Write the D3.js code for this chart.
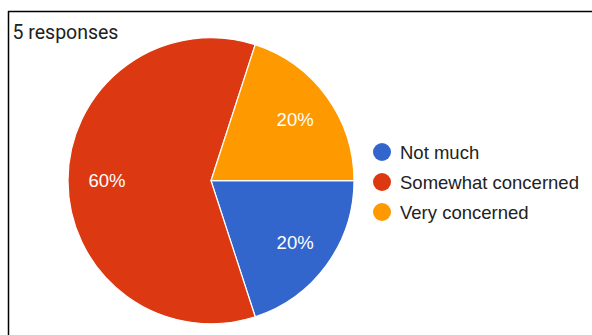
<!DOCTYPE html>
<html>
<head>
<meta charset="utf-8">
<script src="https://cdn.jsdelivr.net/npm/d3@7"></script>
<style>
  html, body { margin: 0; padding: 0; background: #fff; }
  svg { display: block; font-family: Arial, "Liberation Sans", sans-serif; }
</style>
</head>
<body>
<svg id="chart" width="592" height="335"></svg>
<script>
// Survey answers and their counts
const categories = ["Not much", "Somewhat concerned", "Very concerned"];
const counts = [1, 3, 1];
const colors = ["#3366cc", "#dc3912", "#ff9900"];
const titleText = "5 responses";

const svg = d3.select("#chart");
const W = 592, H = 335;

// Frame: top and left rules
svg.append("line").attr("x1", 8).attr("y1", 11.5).attr("x2", W).attr("y2", 11.5)
  .attr("stroke", "#000").attr("stroke-width", 1.5);
svg.append("line").attr("x1", 8.5).attr("y1", 11).attr("x2", 8.5).attr("y2", H)
  .attr("stroke", "#000").attr("stroke-width", 1.5);

svg.append("text").attr("x", 12.5).attr("y", 38.5)
  .attr("font-family", "Roboto, Arial, sans-serif")
  .attr("font-size", 19.5).attr("fill", "#212121").text(titleText);

const cx = 211, cy = 180.7, r = 143;
const total = d3.sum(counts);

// Slices run clockwise starting from 3 o'clock
const pie = d3.pie().sort(null).value(d => d)
  .startAngle(Math.PI / 2).endAngle(Math.PI / 2 + 2 * Math.PI);
const arcs = pie(counts);
const arc = d3.arc().innerRadius(0).outerRadius(r);
const labelArc = d3.arc().innerRadius(104).outerRadius(104);

const g = svg.append("g").attr("transform", `translate(${cx},${cy})`);
g.selectAll("path").data(arcs).join("path")
  .attr("d", arc)
  .attr("fill", (d, i) => colors[i])
  .attr("stroke", "#fff").attr("stroke-width", 1.2);

g.selectAll("text.pct").data(arcs).join("text")
  .attr("class", "pct")
  .attr("transform", d => `translate(${labelArc.centroid(d)})`)
  .attr("text-anchor", "middle").attr("dy", "0.36em")
  .attr("font-size", 18.5).attr("fill", "#fff")
  .text(d => Math.round(d.data / total * 100) + "%");

// Legend
const legend = svg.append("g");
const rows = legend.selectAll("g").data(categories).join("g")
  .attr("transform", (d, i) => `translate(382,${152 + i * 30})`);
rows.append("circle").attr("r", 9).attr("fill", (d, i) => colors[i]);
rows.append("text").attr("x", 18).attr("dy", "0.36em")
  .attr("font-size", 18.5).attr("fill", "#222").text(d => d);
</script>
</body>
</html>
